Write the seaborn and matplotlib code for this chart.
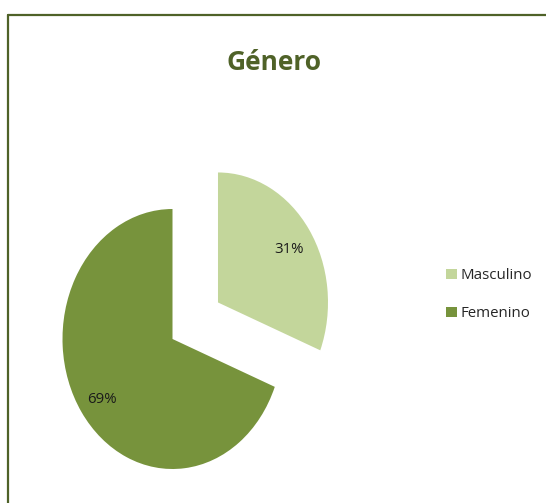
import matplotlib
matplotlib.use("Agg")
import matplotlib.pyplot as plt
from matplotlib.lines import Line2D
import seaborn as sns

categories = ["Masculino", "Femenino"]
values = [31, 69]
colors = ["#C3D69B", "#77933C"]
explode = [0.5, 0.0]
title = "Género"

sns.set_theme(style="white")
plt.rcParams["font.family"] = ["Open Sans", "DejaVu Sans"]

W, H = 546, 503
fig = plt.figure(figsize=(W / 100, H / 100), dpi=100)
fig.patch.set_facecolor("white")

# pie axes: unit x = 110 px, unit y = 130 px, centre at (172.5, 339) from top
ux, uy = 110, 130
cx, cy = 172.5, H - 339
x0, x1 = -1.5, 2.5
y0, y1 = -1.2, 1.5
ax = fig.add_axes([(cx + x0 * ux) / W, (cy + y0 * uy) / H,
                   (x1 - x0) * ux / W, (y1 - y0) * uy / H])
wedges, texts, autotexts = ax.pie(
    values, labels=None, colors=colors, explode=explode,
    startangle=90, counterclock=False, autopct="%d%%", pctdistance=0.78,
    textprops=dict(fontsize=10.8, color="#1a1a1a"),
    wedgeprops=dict(linewidth=0))
for t in autotexts:
    px, py = t.get_position()
    t.set_position((px, py - 0.03))
for w, lab in zip(wedges, categories):
    w.set_label(lab)
ax.set_aspect("auto")
ax.set_xlim(x0, x1)
ax.set_ylim(y0, y1)
ax.axis("off")

fig.text(274 / W, 1 - 62 / H, title, ha="center", va="center",
         fontsize=19, fontweight="bold", color="#4F6228")

fig.legend(handles=wedges, labels=categories, loc="upper left",
           bbox_to_anchor=(446 / W, 1 - 268 / H), frameon=False,
           fontsize=10.8, handlelength=0.7, handleheight=0.7,
           handletextpad=0.3, labelspacing=1.55, borderpad=0,
           borderaxespad=0, labelcolor="#262626")

# chart border (top and left visible)
fig.add_artist(Line2D([8 / W, 1.0], [1 - 15 / H, 1 - 15 / H],
                      transform=fig.transFigure, color="#4F6228", lw=1.6))
fig.add_artist(Line2D([8 / W, 8 / W], [0.0, 1 - 15 / H],
                      transform=fig.transFigure, color="#4F6228", lw=1.6))

fig.savefig("out.png", dpi=100)
